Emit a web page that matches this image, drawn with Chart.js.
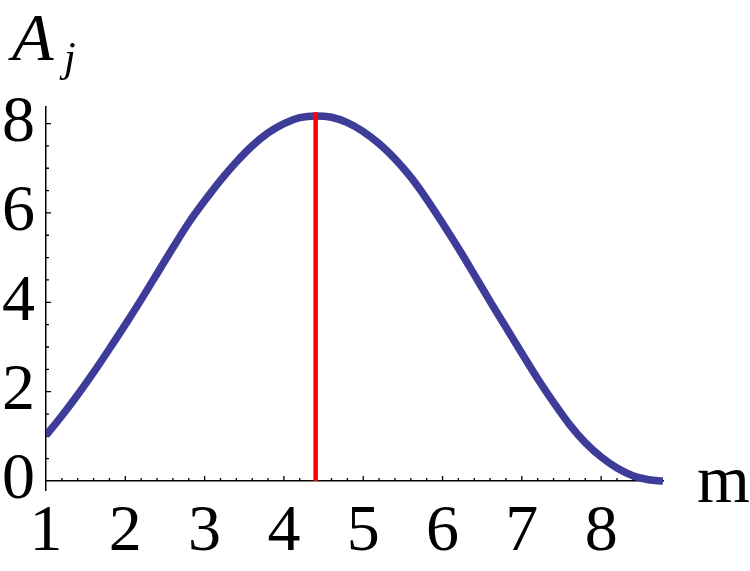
<!DOCTYPE html>
<html>
<head>
<meta charset="utf-8">
<script src="https://cdn.jsdelivr.net/npm/chart.js@4.4.1/dist/chart.umd.min.js"></script>
<style>
  html, body { margin: 0; padding: 0; background: #fff; }
</style>
</head>
<body>
<canvas id="chart" width="750" height="571"></canvas>
<script>
  // values
  const mValues = [1.0, 1.2, 1.4, 1.6, 1.8, 2.0, 2.2, 2.4, 2.6, 2.8,
                   3.0, 3.2, 3.4, 3.6, 3.8, 4.0, 4.2, 4.4, 4.6, 4.8,
                   5.0, 5.2, 5.4, 5.6, 5.8, 6.0, 6.2, 6.4, 6.6, 6.8,
                   7.0, 7.2, 7.4, 7.6, 7.8, 8.0, 8.2, 8.4, 8.6, 8.78];
  const ajValues = [1.02, 1.46, 1.93, 2.43, 2.96, 3.50, 4.06, 4.64, 5.22, 5.78,
                    6.27, 6.73, 7.14, 7.50, 7.79, 8.00, 8.13, 8.17, 8.14, 8.02,
                    7.82, 7.55, 7.21, 6.80, 6.31, 5.77, 5.21, 4.62, 4.02, 3.44,
                    2.86, 2.29, 1.76, 1.27, 0.86, 0.54, 0.29, 0.12, 0.03, 0.0];
  const peakM = 4.4;
  const peakLine = [0, 8.25];
  const xTicks = [1, 2, 3, 4, 5, 6, 7, 8];
  const yTicks = [0, 2, 4, 6, 8];
  const xMinorStep = 0.2;
  const yMinorStep = 0.5;

  const SERIF = "'Liberation Serif', 'Times New Roman', serif";

  // Mathematica style: small tick marks pointing into the plot, plus axis labels
  const axisDecor = {
    id: "axisDecor",
    beforeDatasetsDraw(chart) {
      const { ctx, scales } = chart;
      const x = scales.x, y = scales.y;
      const left = x.getPixelForValue(x.min);
      const base = y.getPixelForValue(0);
      ctx.save();
      ctx.strokeStyle = "#000";
      ctx.lineWidth = 1.3;
      ctx.beginPath();
      for (let i = 1; i * yMinorStep <= yTicks[yTicks.length - 1] + 1e-9; i++) {
        const v = i * yMinorStep;
        const py = y.getPixelForValue(v);
        const len = yTicks.includes(v) ? 5 : 3;
        ctx.moveTo(left, py);
        ctx.lineTo(left + len, py);
      }
      for (let i = 1; xTicks[0] + i * xMinorStep < x.max; i++) {
        const v = Math.round((xTicks[0] + i * xMinorStep) * 10) / 10;
        const px = x.getPixelForValue(v);
        const len = xTicks.includes(v) ? 5 : 3;
        ctx.moveTo(px, base);
        ctx.lineTo(px, base - len);
      }
      ctx.stroke();
      ctx.restore();
    },
    afterDraw(chart) {
      const { ctx } = chart;
      ctx.save();
      ctx.fillStyle = "#000";
      ctx.textBaseline = "alphabetic";
      ctx.textAlign = "left";
      ctx.font = "italic 68px " + SERIF;
      ctx.fillText("A", 12, 60);
      ctx.font = "italic 42px " + SERIF;
      ctx.fillText("j", 64, 71);
      ctx.font = "68px " + SERIF;
      ctx.fillText("m", 697, 502);
      ctx.restore();
    }
  };

  new Chart(document.getElementById("chart"), {
    type: "line",
    data: {
      datasets: [
        {
          label: "peak",
          data: peakLine.map((v) => ({ x: peakM, y: v })),
          borderColor: "#ff0000",
          borderWidth: 4.5,
          pointRadius: 0,
          order: 0,
        },
        {
          label: "A_j",
          data: mValues.map((m, i) => ({ x: m, y: ajValues[i] })),
          borderColor: "#3d3d99",
          borderWidth: 7.5,
          pointRadius: 0,
          cubicInterpolationMode: "monotone",
          order: 1,
        },
      ],
    },
    options: {
      responsive: false,
      animation: false,
      devicePixelRatio: 1,
      layout: { padding: { top: 107, right: 87, bottom: 81, left: 0 } },
      plugins: {
        legend: { display: false },
        tooltip: { enabled: false },
      },
      scales: {
        x: {
          type: "linear",
          position: { y: 0 },
          min: 1,
          max: 8.78,
          afterBuildTicks: (s) => { s.ticks = xTicks.map((v) => ({ value: v })); },
          grid: { display: false, drawTicks: false },
          border: { display: true, color: "#000", width: 1.5 },
          ticks: {
            color: "#000",
            padding: 12,
            maxRotation: 0,
            autoSkip: false,
            font: { family: SERIF, size: 66 },
          },
        },
        y: {
          type: "linear",
          position: "left",
          min: -0.2,
          max: 8.37,
          afterBuildTicks: (s) => { s.ticks = yTicks.map((v) => ({ value: v })); },
          afterFit: (s) => { s.width = 46; },
          grid: { display: false, drawTicks: false },
          border: { display: true, color: "#000", width: 1.5 },
          ticks: {
            color: "#000",
            padding: 11,
            font: { family: SERIF, size: 66 },
          },
        },
      },
    },
    plugins: [axisDecor],
  });
</script>
</body>
</html>
